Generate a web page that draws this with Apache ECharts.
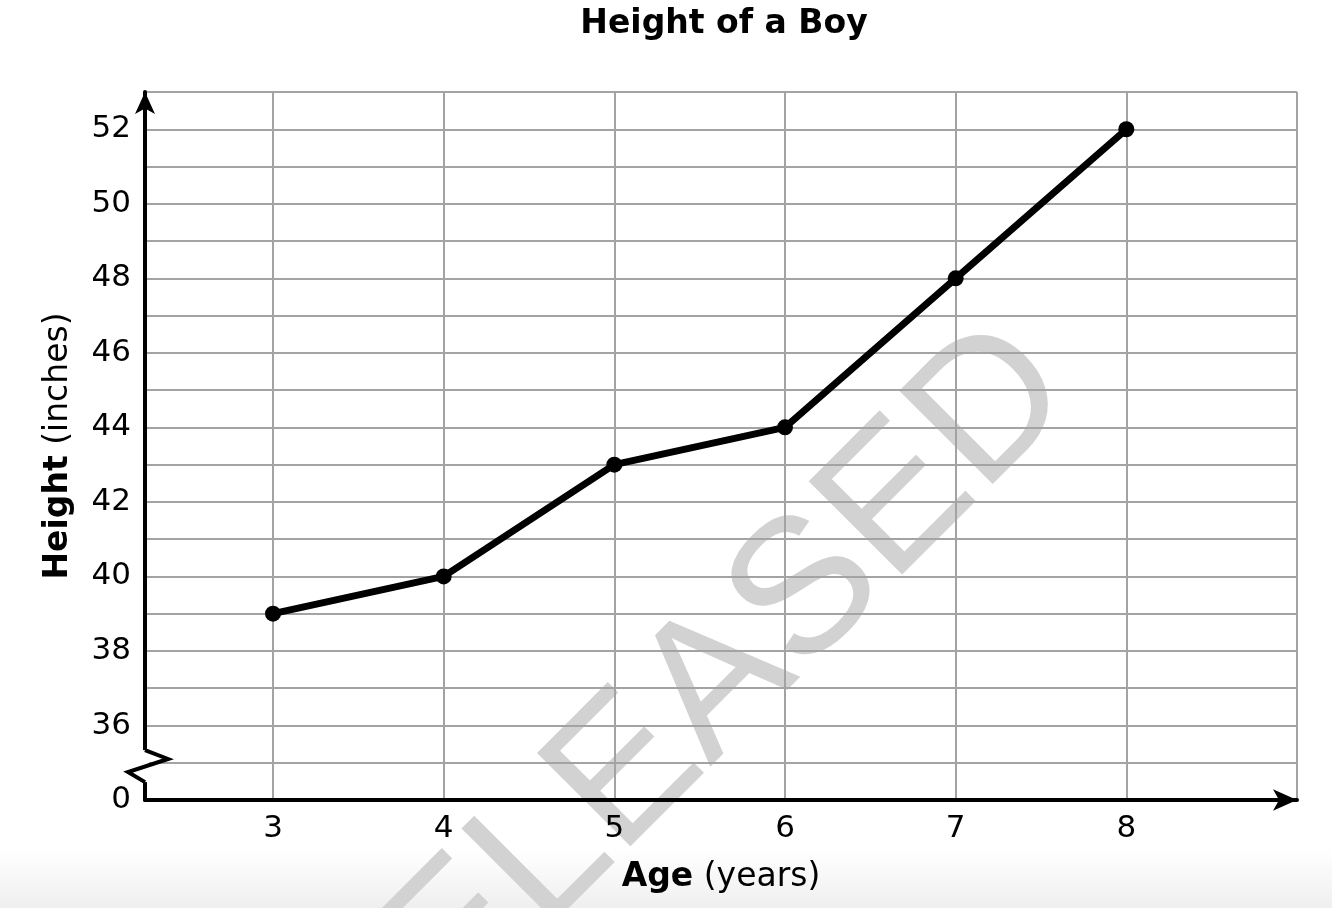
<!DOCTYPE html>
<html>
<head>
<meta charset="utf-8">
<script src="https://cdn.jsdelivr.net/npm/echarts@6/dist/echarts.min.js"></script>
<style>
html, body { margin: 0; padding: 0; background: #fff; }
#chart { width: 1332px; height: 908px; }
</style>
</head>
<body>
<div id="chart"></div>
<script>
var ages = [3, 4, 5, 6, 7, 8];
var heights = [39, 40, 43, 44, 48, 52];
var xGridValues = [3, 4, 5, 6, 7, 8, 9];
var yLabelValues = [36, 38, 40, 42, 44, 46, 48, 50, 52];

var font = 'DejaVu Sans';
var points = ages.map(function (a, i) { return [a, heights[i]]; });

var chart = echarts.init(document.getElementById('chart'));

var option = {
	animation: false,
	textStyle: { fontFamily: font },
	title: {
		text: 'Height of a Boy',
		left: 719,
		textAlign: 'center',
		top: 3,
		textStyle: { fontSize: 33, fontWeight: 'bold', color: '#000', fontFamily: font }
	},
	grid: { left: 145, right: 35, top: 92, bottom: 108, containLabel: false },
	xAxis: {
		type: 'value',
		min: 2.25,
		max: 9,
		name: '{b|Age}{n| (years)}',
		nameLocation: 'middle',
		nameGap: 61,
		nameTextStyle: {
			rich: {
				b: { fontSize: 33, fontWeight: 'bold', color: '#000', fontFamily: font },
				n: { fontSize: 33, color: '#000', fontFamily: font }
			}
		},
		axisLine: {
			show: true,
			lineStyle: { color: '#000', width: 4 },
			symbol: ['none', 'arrow'],
			symbolSize: [16, 24],
			symbolOffset: [0, 0]
		},
		axisTick: { show: false, customValues: xGridValues },
		axisLabel: { customValues: ages, fontSize: 31, color: '#000', margin: 13, fontFamily: font },
		splitLine: { show: true, lineStyle: { color: '#a3a3a3', width: 2 } }
	},
	yAxis: {
		type: 'value',
		min: 34,
		max: 53,
		interval: 1,
		name: '{b|Height}{n| (inches)}',
		nameLocation: 'middle',
		nameGap: 70,
		nameTextStyle: {
			rich: {
				b: { fontSize: 33, fontWeight: 'bold', color: '#000', fontFamily: font },
				n: { fontSize: 33, color: '#000', fontFamily: font }
			}
		},
		axisLine: {
			show: true,
			lineStyle: { color: '#000', width: 4 },
			symbol: ['none', 'arrow'],
			symbolSize: [15, 22],
			symbolOffset: [0, 0]
		},
		axisTick: { show: false },
		axisLabel: {
			fontSize: 31,
			color: '#000',
			margin: 14,
			fontFamily: font,
			formatter: function (v) {
				if (v === 34) return '0';
				return yLabelValues.indexOf(v) >= 0 ? String(v) : '';
			}
		},
		splitLine: { show: true, lineStyle: { color: '#a3a3a3', width: 2 } }
	},
	series: [{
		type: 'line',
		data: points,
		symbol: 'circle',
		symbolSize: 16,
		lineStyle: { color: '#000', width: 7 },
		itemStyle: { color: '#000' },
		z: 5
	}]
};

chart.setOption(option);

// axis break marker and watermark
var x0 = chart.convertToPixel({ xAxisIndex: 0 }, 2.25);
var yA = chart.convertToPixel({ yAxisIndex: 0 }, 35.34);
var yB = chart.convertToPixel({ yAxisIndex: 0 }, 35.1);
var yC = chart.convertToPixel({ yAxisIndex: 0 }, 34.75);
var yD = chart.convertToPixel({ yAxisIndex: 0 }, 34.48);

chart.setOption({
	graphic: [
		{
			type: 'rect',
			z: -20,
			shape: { x: 0, y: 850, width: 1332, height: 58 },
			style: {
				fill: new echarts.graphic.LinearGradient(0, 0, 0, 1, [
					{ offset: 0, color: '#ffffff' },
					{ offset: 1, color: '#efefef' }
				])
			}
		},
		{
			type: 'text',
			z: -10,
			x: 680,
			y: 722,
			rotation: 45 * Math.PI / 180,
			style: {
				text: 'RELEASED',
				fontSize: 192,
				fontFamily: 'Liberation Sans',
				fill: '#d2d2d2',
				align: 'center',
				verticalAlign: 'middle'
			}
		},
		{
			type: 'rect',
			z: 10,
			shape: { x: x0 - 4, y: yA, width: 8, height: yD - yA },
			style: { fill: '#fff' }
		},
		{
			type: 'polyline',
			z: 11,
			shape: { points: [[x0, yA], [x0 + 23, yB], [x0 - 17, yC], [x0, yD]] },
			style: { stroke: '#000', lineWidth: 4, fill: null }
		}
	]
});
</script>
</body>
</html>
